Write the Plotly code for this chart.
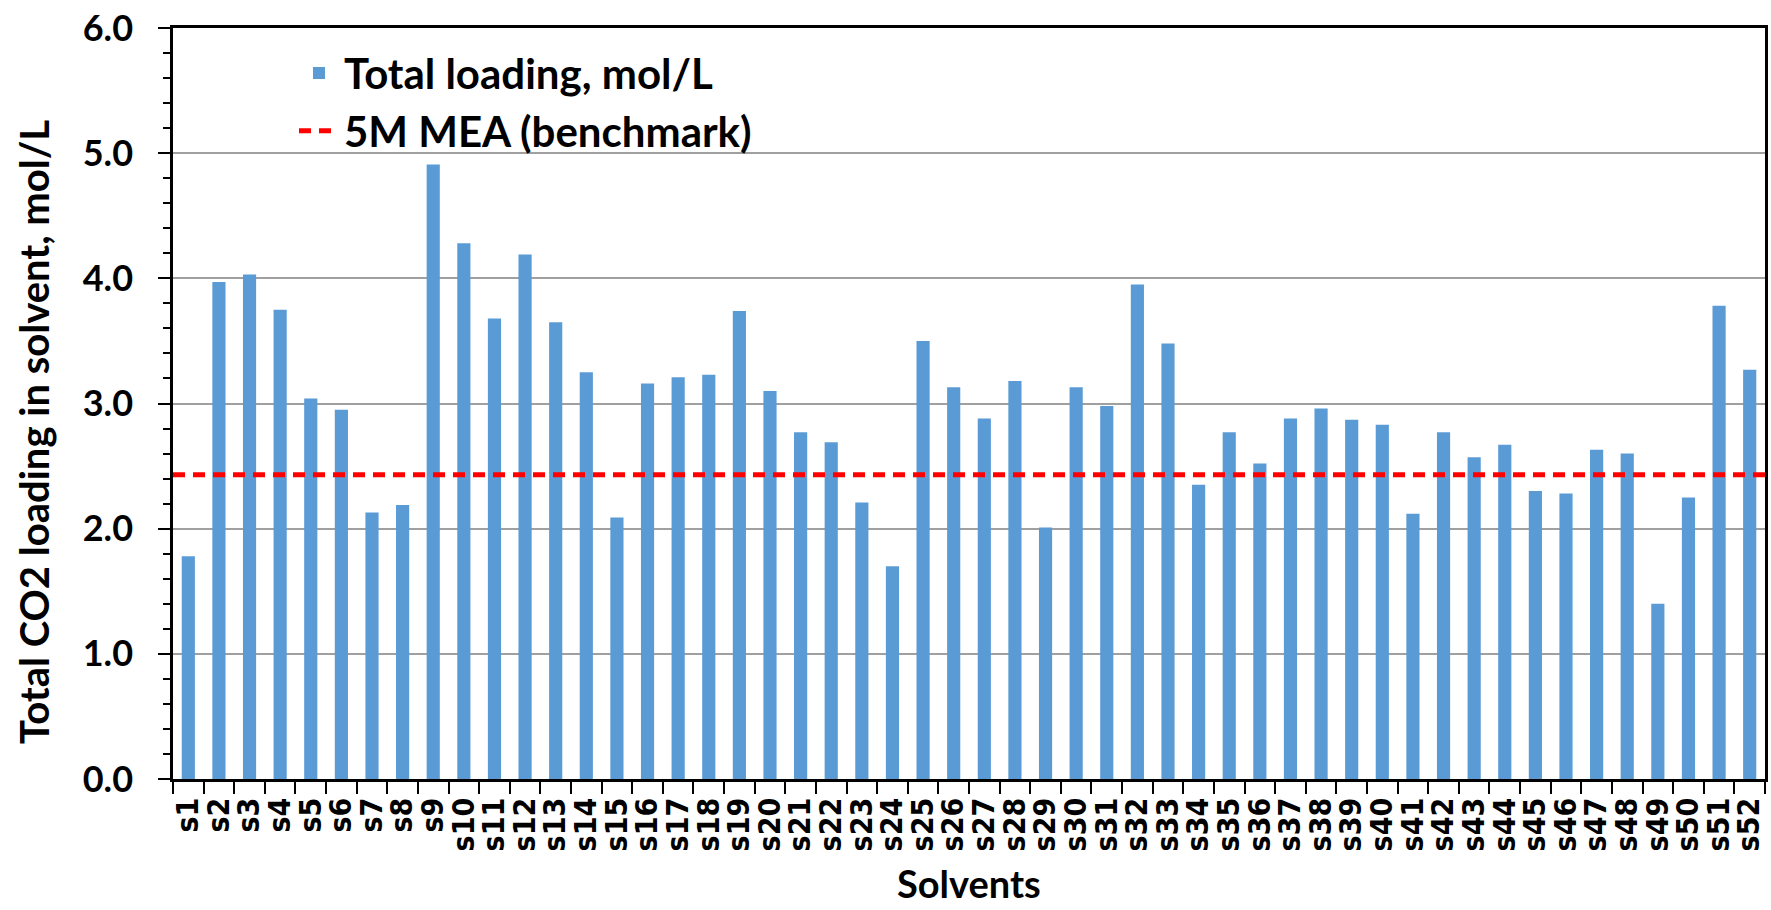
import plotly.graph_objects as go

# solvents and total CO2 loading (mol/L)
solvents = [f"s{i}" for i in range(1, 53)]
loading = [
    1.78, 3.97, 4.03, 3.75, 3.04, 2.95, 2.13, 2.19, 4.91, 4.28,
    3.68, 4.19, 3.65, 3.25, 2.09, 3.16, 3.21, 3.23, 3.74, 3.10,
    2.77, 2.69, 2.21, 1.70, 3.50, 3.13, 2.88, 3.18, 2.01, 3.13,
    2.98, 3.95, 3.48, 2.35, 2.77, 2.52, 2.88, 2.96, 2.87, 2.83,
    2.12, 2.77, 2.57, 2.67, 2.30, 2.28, 2.63, 2.60, 1.40, 2.25,
    3.78, 3.27,
]
benchmark = 2.43  # 5M MEA

BAR_COLOR = "#5B9BD5"
TXT = dict(family="Lato, Open Sans, sans-serif", color="black", weight="bold")

fig = go.Figure()

fig.add_trace(go.Bar(
    x=solvents, y=loading,
    name="Total loading, mol/L",
    marker=dict(color=BAR_COLOR, line=dict(width=0)),
))

# benchmark line across whole plot
fig.add_shape(
    type="line", xref="paper", x0=0, x1=1, yref="y", y0=benchmark, y1=benchmark,
    line=dict(color="#FF0000", width=5, dash="12px,8px"),
    showlegend=True, name="5M MEA (benchmark)", layer="above",
)

fig.update_xaxes(
    type="category", range=[-0.5, 51.5],
    tickmode="linear", dtick=1, automargin=False,
    showline=True, linecolor="black", linewidth=2.5, mirror=True,
    ticks="outside", ticklen=12, tickwidth=2, tickcolor="black",
    tickson="boundaries", tickangle=-90,
    tickfont=dict(family="DejaVu Sans Condensed, DejaVu Sans", size=30, color="black", weight="bold"),
    ticklabelstandoff=4,
    showgrid=False,
)
fig.update_yaxes(
    range=[0, 6], dtick=1, tickformat=".1f", automargin=False,
    showline=True, linecolor="black", linewidth=2.5, mirror=True,
    ticks="outside", ticklen=12, tickwidth=2, tickcolor="black",
    tickfont=dict(size=36, **TXT),
    ticklabelstandoff=18,
    showgrid=True, gridcolor="#A0A0A0", gridwidth=1.5,
    zeroline=False,
    minor=dict(dtick=0.2, ticks="outside", ticklen=7, tickwidth=1.5, tickcolor="black", showgrid=False),
)

# axis titles as annotations for exact placement
fig.add_annotation(
    text="Total CO2 loading in solvent, mol/L", textangle=-90,
    xref="paper", yref="paper", x=-0.0874, y=0.462, xanchor="center", yanchor="middle",
    showarrow=False, font=dict(size=40, **TXT),
)
fig.add_annotation(
    text="Solvents", xref="paper", yref="paper", x=0.5, y=-0.139,
    xanchor="center", yanchor="middle", showarrow=False, font=dict(size=38, **TXT),
)

fig.update_layout(
    width=1771, height=910,
    margin=dict(l=173, r=6, t=28, b=131),
    plot_bgcolor="white", paper_bgcolor="white",
    bargap=0.57,
    showlegend=True,
    legend=dict(
        x=0.076, y=0.985, xanchor="left", yanchor="top",
        bgcolor="rgba(0,0,0,0)", font=dict(size=42, **TXT),
        itemwidth=40,
    ),
)

# drop the page's default body margin so the figure sits at the window origin
fig.write_html(
    "out.html",
    config={"displayModeBar": False},
    post_script="document.body.style.margin='0';",
)
